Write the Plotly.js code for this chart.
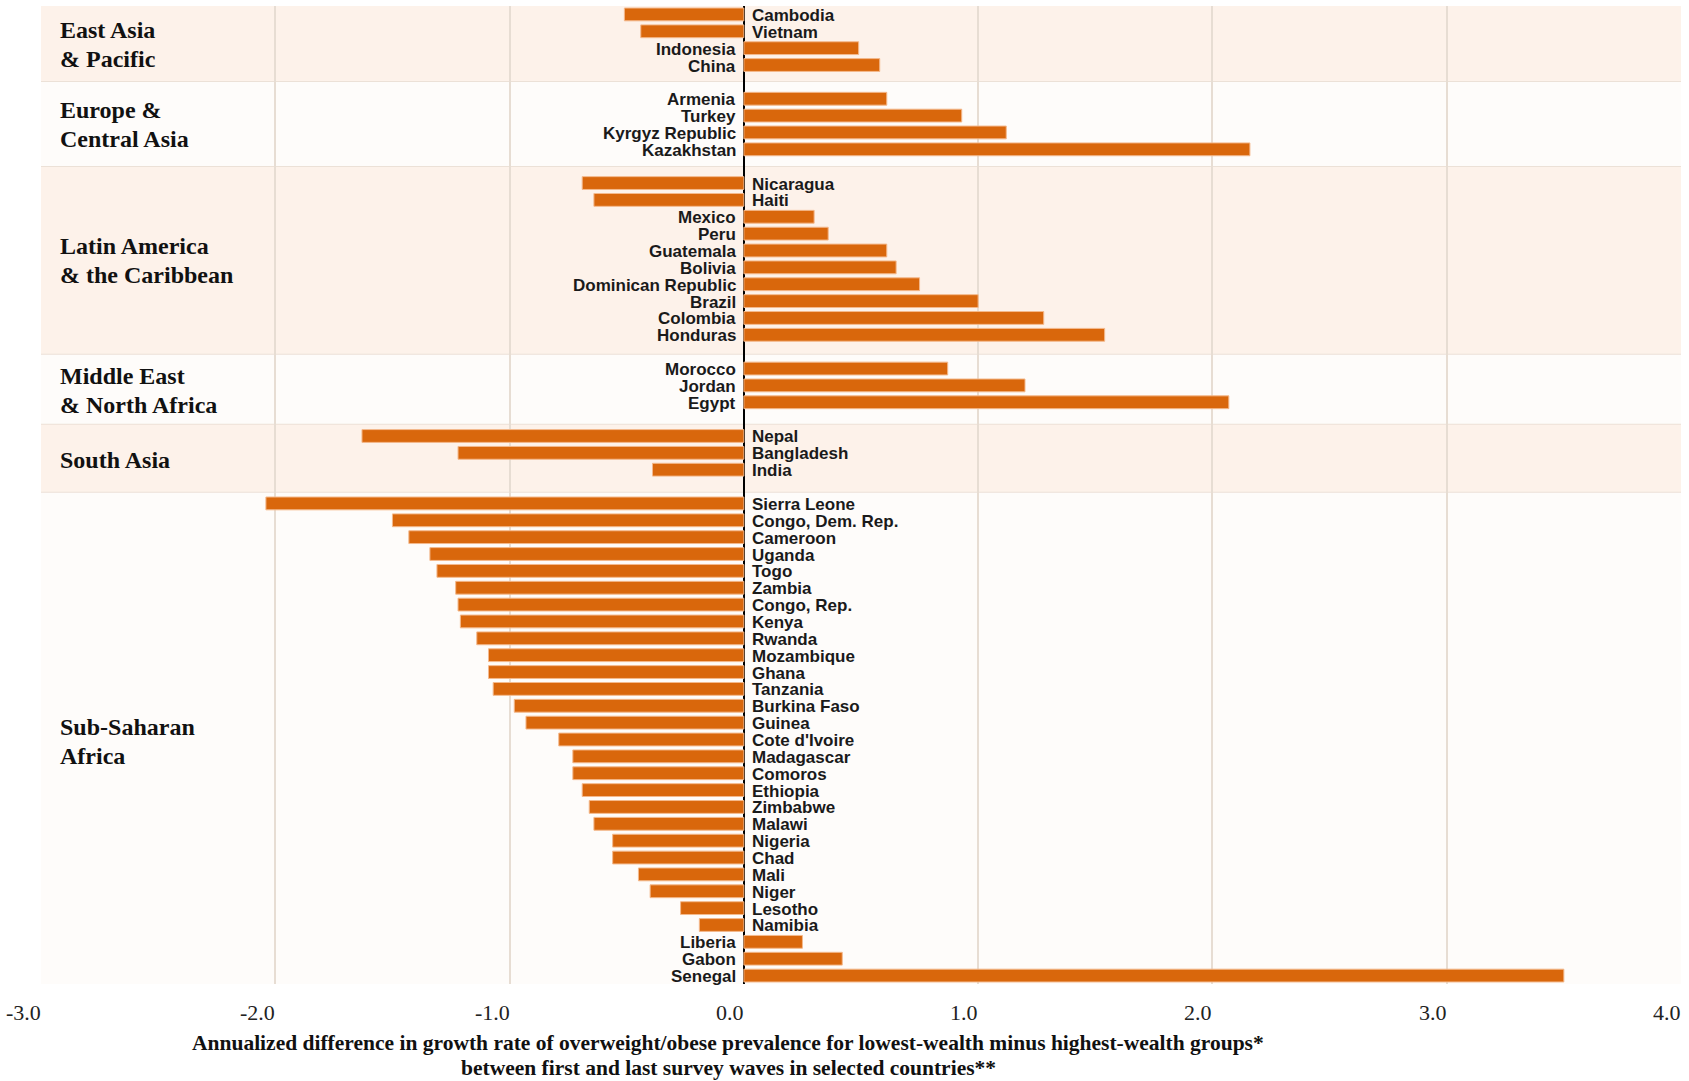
<!DOCTYPE html>
<html>
<head>
<meta charset="utf-8">
<script src="https://cdn.plot.ly/plotly-3.0.1.min.js"></script>
<style>html,body{margin:0;padding:0;background:#fff;}#chart{width:1689px;height:1081px;}</style>
</head>
<body>
<div id="chart"></div>
<script>
// ---- Data (top to bottom within each region) ----
const regionNames = ["East Asia<br>& Pacific", "Europe &<br>Central Asia", "Latin America<br>& the Caribbean", "Middle East<br>& North Africa", "South Asia", "Sub-Saharan<br>Africa"];

const eapCountries = ["Cambodia", "Vietnam", "Indonesia", "China"];
const eapValues = [-0.51, -0.44, 0.49, 0.58];

const ecaCountries = ["Armenia", "Turkey", "Kyrgyz Republic", "Kazakhstan"];
const ecaValues = [0.61, 0.93, 1.12, 2.16];

const lacCountries = ["Nicaragua", "Haiti", "Mexico", "Peru", "Guatemala", "Bolivia", "Dominican Republic", "Brazil", "Colombia", "Honduras"];
const lacValues = [-0.69, -0.64, 0.30, 0.36, 0.61, 0.65, 0.75, 1.00, 1.28, 1.54];

const menaCountries = ["Morocco", "Jordan", "Egypt"];
const menaValues = [0.87, 1.20, 2.07];

const saCountries = ["Nepal", "Bangladesh", "India"];
const saValues = [-1.63, -1.22, -0.39];

const ssaCountries = ["Sierra Leone", "Congo, Dem. Rep.", "Cameroon", "Uganda", "Togo", "Zambia", "Congo, Rep.", "Kenya", "Rwanda", "Mozambique", "Ghana", "Tanzania", "Burkina Faso", "Guinea", "Cote d'Ivoire", "Madagascar", "Comoros", "Ethiopia", "Zimbabwe", "Malawi", "Nigeria", "Chad", "Mali", "Niger", "Lesotho", "Namibia", "Liberia", "Gabon", "Senegal"];
const ssaValues = [-2.04, -1.50, -1.43, -1.34, -1.31, -1.23, -1.22, -1.21, -1.14, -1.09, -1.09, -1.07, -0.98, -0.93, -0.79, -0.73, -0.73, -0.69, -0.66, -0.64, -0.56, -0.56, -0.45, -0.40, -0.27, -0.19, 0.25, 0.42, 3.50];

const tickValues = [-3, -2, -1, 0, 1, 2, 3, 4];
const tickLabels = ["-3.0", "-2.0", "-1.0", "0.0", "1.0", "2.0", "3.0", "4.0"];

const axisTitleLines = [
  "Annualized difference in growth rate of overweight/obese prevalence for lowest-wealth minus highest-wealth groups*",
  "between first and last survey waves in selected countries**"
];

// ---- Style / layout constants ----
const BAR = "#D9670C";
const PEACH = "#FDF2EA";
const LIGHT = "#FEFCFA";
const SEP = "#ECE1D7";
const SERIF = "Liberation Serif, Times New Roman, serif";
const SANS = "Liberation Sans, Arial, sans-serif";
const bandEdgeShift = [0.01, 0.05, 0.18, 0.34, 0.36]; // separator offsets (slots) as drawn in the original
const regionLabelShift = [0, 0, 0, -1, -1, -3];       // small pixel nudges of region labels

// ---- Build ----
const groups = [
  [eapCountries, eapValues], [ecaCountries, ecaValues], [lacCountries, lacValues],
  [menaCountries, menaValues], [saCountries, saValues], [ssaCountries, ssaValues]
];

let ys = [], xs = [], names = [];
let shapes = [], annotations = [];
let pos = 0;
const totalSlots = groups.reduce((a, g) => a + g[0].length, 0) + groups.length - 1;
const yMin = -0.5, yMax = totalSlots - 0.5;

let edges = [yMin];
{
  let p = 0;
  groups.forEach((g, gi) => {
    p += g[0].length;
    if (gi < groups.length - 1) { edges.push(p + bandEdgeShift[gi]); p += 1; }
  });
}
edges.push(yMax);

groups.forEach((g, gi) => {
  const [cs, vs] = g;
  cs.forEach((c, i) => { ys.push(pos + i); xs.push(vs[i]); names.push(c); });
  const y0 = edges[gi], y1 = edges[gi + 1];
  shapes.push({type: "rect", layer: "below", xref: "paper", x0: 0, x1: 1, yref: "y", y0: y0, y1: y1,
    fillcolor: gi % 2 === 0 ? PEACH : LIGHT, line: {width: 0}});
  if (gi < groups.length - 1) {
    shapes.push({type: "line", layer: "below", xref: "paper", x0: 0, x1: 1, yref: "y", y0: y1, y1: y1,
      line: {color: SEP, width: 2}});
  }
  const lines = regionNames[gi].split("<br>");
  lines.forEach((ln, j) => {
    annotations.push({x: -3, xref: "x", xanchor: "left", xshift: 17, y: (y0 + y1) / 2, yref: "y", yanchor: "middle",
      yshift: ((lines.length - 1) / 2 - j) * 29 + regionLabelShift[gi],
      text: "<b>" + ln + "</b>", showarrow: false, align: "left",
      font: {family: SERIF, size: 24, color: "#111"}});
  });
  pos += cs.length + 1;
});

names.forEach((n, i) => {
  const neg = xs[i] < 0;
  annotations.push({x: 0, xref: "x", y: ys[i], yref: "y", yanchor: "middle",
    xanchor: neg ? "left" : "right", xshift: neg ? 6 : -6, yshift: -1,
    text: "<b>" + n + "</b>", showarrow: false,
    font: {family: SANS, size: 17, color: "#1a1a1a"}});
});

tickValues.forEach((v, i) => {
  annotations.push({x: v, xref: "x", xanchor: "right", xshift: 2, yref: "paper", y: -0.0292, yanchor: "middle",
    text: tickLabels[i], showarrow: false,
    font: {family: SERIF, size: 22, color: "#222"}});
});

axisTitleLines.forEach((t, j) => {
  annotations.push({xref: "paper", x: 0.419, yref: "paper", y: j === 0 ? -0.0599 : -0.0864,
    xanchor: "center", yanchor: "middle",
    text: "<b>" + t + "</b>", showarrow: false,
    font: {family: SERIF, size: 21.5, color: "#111"}});
});

const trace = {
  type: "bar", orientation: "h", x: xs, y: ys,
  marker: {color: BAR, line: {color: "#F4B98C", width: 1}},
  hoverinfo: "skip"
};

const layout = {
  width: 1689, height: 1081,
  margin: {l: 41, r: 8, t: 6, b: 97},
  paper_bgcolor: "#FFFFFF", plot_bgcolor: "#FFFFFF",
  showlegend: false,
  bargap: 0.24,
  xaxis: {
    range: [-3, 4], tickvals: tickValues, ticktext: tickLabels, showticklabels: false,
    showgrid: true, gridcolor: "#E7DDD3", gridwidth: 2,
    zeroline: true, zerolinecolor: "#000", zerolinewidth: 2,
    showline: false, ticks: ""
  },
  yaxis: {range: [yMax, yMin], showticklabels: false, showgrid: false, zeroline: false, showline: false, ticks: ""},
  shapes: shapes,
  annotations: annotations
};

Plotly.newPlot("chart", [trace], layout, {staticPlot: true, displayModeBar: false});
</script>
</body>
</html>
